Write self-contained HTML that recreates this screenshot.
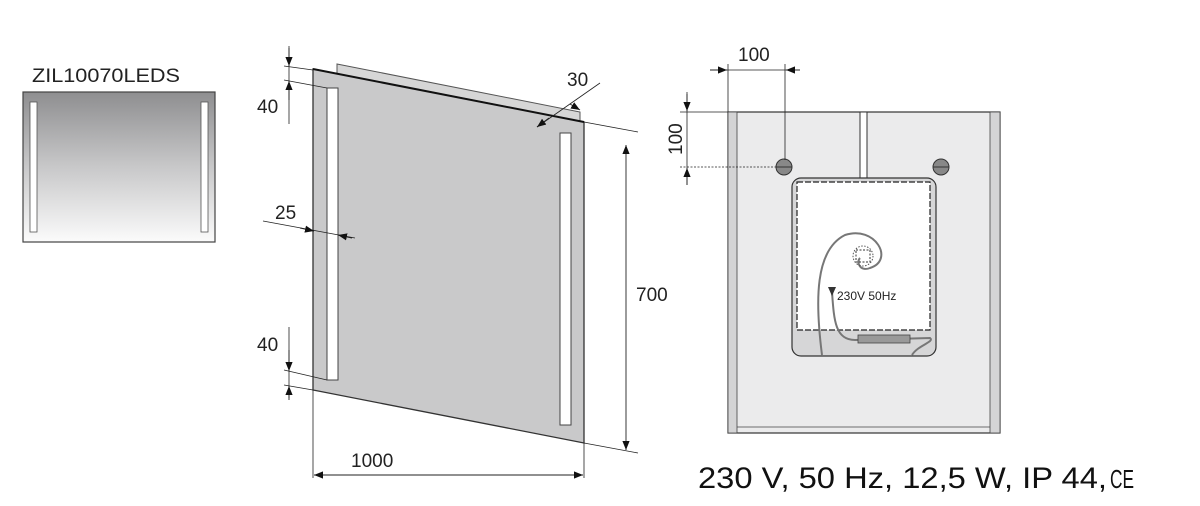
<!DOCTYPE html>
<html><head><meta charset="utf-8"><style>
html,body{margin:0;padding:0;background:#fff;}
svg{display:block;font-family:"Liberation Sans",Arial,sans-serif;}
</style></head><body>
<svg width="1200" height="506" viewBox="0 0 1200 506" xmlns="http://www.w3.org/2000/svg">
<defs>
<linearGradient id="g1" x1="0" y1="0" x2="0" y2="1">
<stop offset="0" stop-color="#8e8e90"/><stop offset="0.5" stop-color="#c8c8c9"/><stop offset="1" stop-color="#fbfbfb"/>
</linearGradient>
<marker id="ar" viewBox="0 0 10 10" refX="10" refY="5" markerWidth="9" markerHeight="9" orient="auto-start-reverse" markerUnits="userSpaceOnUse"><path d="M0,1 L10,5 L0,9 z" fill="#111"/></marker>
</defs>

<text x="32" y="82" font-size="19" fill="#222" textLength="148" lengthAdjust="spacingAndGlyphs">ZIL10070LEDS</text>
<rect x="23" y="92" width="192" height="150" fill="url(#g1)" stroke="#444" stroke-width="1.2"/>
<rect x="30" y="102" width="7" height="130" fill="#fff" stroke="#555" stroke-width="0.8"/>
<rect x="201" y="102" width="7" height="130" fill="#fff" stroke="#555" stroke-width="0.8"/>

<polygon points="337,64 580,112 580,124 337,76" fill="#d6d6d6" stroke="#555" stroke-width="1"/>
<polygon points="313,69 584,122 584,443 313,390" fill="#c9c9ca" stroke="#333" stroke-width="1.3"/>
<line x1="313" y1="69" x2="584" y2="122" stroke="#111" stroke-width="2"/>
<rect x="327" y="88" width="11" height="292" fill="#fff" stroke="#444" stroke-width="1"/>
<rect x="560" y="133" width="11" height="292" fill="#fff" stroke="#444" stroke-width="1"/>

<g stroke="#222" stroke-width="0.8" fill="none">
<line x1="289" y1="46" x2="289" y2="124"/>
<line x1="284" y1="66" x2="313" y2="70"/>
<line x1="284" y1="80" x2="327" y2="88"/>
<line x1="289" y1="327" x2="289" y2="398"/>
<line x1="284" y1="370" x2="327" y2="380"/>
<line x1="284" y1="385" x2="313" y2="390"/>
<line x1="263" y1="221" x2="355" y2="238"/>
<line x1="584" y1="122" x2="638" y2="132"/>
<line x1="584" y1="443" x2="638" y2="453"/>
<line x1="313" y1="390" x2="313" y2="478"/>
<line x1="584" y1="443" x2="584" y2="478"/>
<line x1="537" y1="127" x2="600" y2="83"/>
</g>
<g stroke="#222" stroke-width="0.9">
<line x1="289" y1="48" x2="289" y2="66" marker-end="url(#ar)"/>
<line x1="289" y1="100" x2="289" y2="81" marker-end="url(#ar)"/>
<line x1="289" y1="350" x2="289" y2="371" marker-end="url(#ar)"/>
<line x1="289" y1="400" x2="289" y2="386" marker-end="url(#ar)"/>
<line x1="300" y1="228" x2="314" y2="231" marker-end="url(#ar)"/>
<line x1="352" y1="238" x2="338" y2="235" marker-end="url(#ar)"/>
<line x1="626" y1="145" x2="626" y2="450" marker-start="url(#ar)" marker-end="url(#ar)"/>
<line x1="314" y1="475" x2="583" y2="475" marker-start="url(#ar)" marker-end="url(#ar)"/>
<line x1="570" y1="104" x2="580" y2="110" marker-end="url(#ar)"/>
<line x1="537" y1="127" x2="549" y2="118" marker-start="url(#ar)"/>
</g>
<g font-size="19" fill="#222">
<text x="257" y="113">40</text>
<text x="257" y="351">40</text>
<text x="275" y="219">25</text>
<text x="567" y="86">30</text>
<text x="636" y="301">700</text>
<text x="351" y="467">1000</text>
</g>

<rect x="728" y="112" width="272" height="321" fill="#ebebec" stroke="#333" stroke-width="1.2"/>
<rect x="728" y="112" width="9" height="321" fill="#d4d4d5" stroke="#444" stroke-width="0.8"/>
<rect x="990" y="112" width="10" height="321" fill="#d4d4d5" stroke="#444" stroke-width="0.8"/>
<line x1="737" y1="427" x2="990" y2="427" stroke="#444" stroke-width="0.8"/>
<rect x="860" y="112" width="7" height="66" fill="#fff" stroke="#333" stroke-width="1"/>
<rect x="792" y="178" width="144" height="178" rx="9" fill="#d6d6d7" stroke="#333" stroke-width="1.2"/>
<rect x="797" y="182" width="133" height="148" fill="#fff" stroke="#222" stroke-width="1.2" stroke-dasharray="6 2"/>
<circle cx="784" cy="167" r="8" fill="#888" stroke="#333" stroke-width="1"/>
<line x1="776" y1="167" x2="792" y2="167" stroke="#333"/>
<circle cx="941" cy="167" r="8" fill="#888" stroke="#333" stroke-width="1"/>
<line x1="933" y1="167" x2="949" y2="167" stroke="#333"/>
<path d="M822,355 C815,300 815,250 845,235 C875,225 895,260 870,268 C860,272 856,262 860,258" fill="none" stroke="#777" stroke-width="2"/>
<rect x="856" y="250" width="14" height="12" fill="none" stroke="#333" stroke-dasharray="2 1.5"/>
<circle cx="863" cy="256" r="10" fill="none" stroke="#555" stroke-dasharray="1.5 1.5"/>
<path d="M832,292 C834,320 835,340 855,340 L930,338 C935,342 918,345 912,355" fill="none" stroke="#777" stroke-width="2"/>
<rect x="858" y="335" width="52" height="8" fill="#999" stroke="#444" stroke-width="0.8"/>
<path d="M828,287 L836,287 L832,296 z" fill="#333"/>
<text x="837" y="300" font-size="12" fill="#222">230V 50Hz</text>
<g stroke="#222" stroke-width="0.8" fill="none">
<line x1="728" y1="112" x2="728" y2="64"/>
<line x1="785" y1="160" x2="785" y2="64"/>
<line x1="680" y1="112" x2="728" y2="112"/>
<line x1="680" y1="167" x2="776" y2="167" stroke-dasharray="2 1.5"/>
<line x1="710" y1="70" x2="800" y2="70"/>
<line x1="687" y1="92" x2="687" y2="185"/>
</g>
<g stroke="#222" stroke-width="0.9">
<line x1="710" y1="70" x2="727" y2="70" marker-end="url(#ar)"/>
<line x1="800" y1="70" x2="786" y2="70" marker-end="url(#ar)"/>
<line x1="687" y1="94" x2="687" y2="111" marker-end="url(#ar)"/>
<line x1="687" y1="185" x2="687" y2="168" marker-end="url(#ar)"/>
</g>
<text x="738" y="61" font-size="19" fill="#222">100</text>
<text x="682" y="155" font-size="19" fill="#222" transform="rotate(-90 682 155)">100</text>

<text x="698" y="488" font-size="30" fill="#111" textLength="409" lengthAdjust="spacingAndGlyphs">230 V, 50 Hz, 12,5 W, IP 44,</text>
<text x="1110" y="488" font-size="26" fill="#111" textLength="24" lengthAdjust="spacingAndGlyphs">CE</text>
</svg>
</body></html>
